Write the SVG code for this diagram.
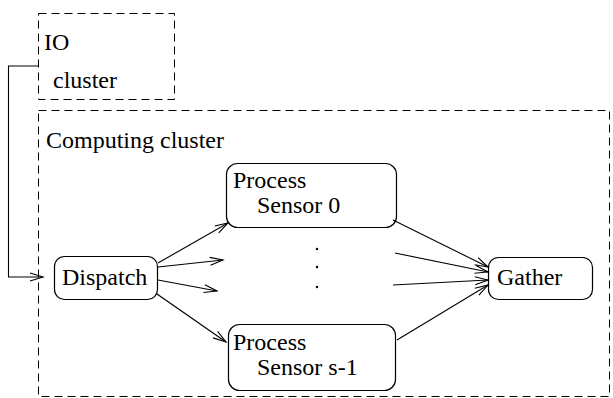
<svg xmlns="http://www.w3.org/2000/svg" width="613" height="398" viewBox="0 0 613 398">
<defs>
<style>
.cl{fill:none;stroke:#000;stroke-width:1;stroke-dasharray:8,5}
.nd{fill:#fff;stroke:#000;stroke-width:1.2}
text{font-family:'Liberation Serif','DejaVu Serif',serif;font-size:24px;fill:#000}
.e{fill:none;stroke:#000;stroke-width:1.1}
</style>
<marker id="ah" markerUnits="userSpaceOnUse" markerWidth="16" markerHeight="12" refX="14" refY="6" orient="auto" viewBox="0 0 16 12">
<path d="M1,2 L14,6 L1,10" fill="none" stroke="#000" stroke-width="1.1"/>
</marker>
</defs>
<g id="io-cluster">
<rect class="cl" x="38.5" y="13.5" width="136" height="86"/>
<text x="44" y="50">IO</text>
<text x="53" y="88">cluster</text>
</g>
<g id="computing-cluster">
<rect class="cl" x="38.5" y="110.5" width="571" height="286"/>
<text x="46" y="148">Computing cluster</text>
</g>
<g id="dispatch">
<rect class="nd" x="54.5" y="256.5" width="103" height="43" rx="10"/>
<text x="62" y="285">Dispatch</text>
</g>
<g id="process0">
<rect class="nd" x="226.5" y="163.5" width="170" height="64" rx="11"/>
<text x="233" y="188">Process</text>
<text x="257" y="213">Sensor 0</text>
</g>
<g id="process-s1">
<rect class="nd" x="228.5" y="324.5" width="167" height="66" rx="11"/>
<text x="233" y="350">Process</text>
<text x="257" y="375">Sensor s-1</text>
</g>
<g id="gather">
<rect class="nd" x="488.5" y="257.5" width="104" height="42" rx="10"/>
<text x="497" y="285">Gather</text>
</g>
<g id="dots">
<circle cx="317" cy="249" r="1.2"/>
<circle cx="317" cy="267" r="1.2"/>
<circle cx="317" cy="287" r="1.2"/>
</g>
<g id="connectors">
<path class="e" d="M38,66 H8.5 V277 H43" marker-end="url(#ah)"/>
<path class="e" d="M158,263 L228,223" marker-end="url(#ah)"/>
<path class="e" d="M158,267 L223,260" marker-end="url(#ah)"/>
<path class="e" d="M158,280 L217,291" marker-end="url(#ah)"/>
<path class="e" d="M157,294 L226,342" marker-end="url(#ah)"/>
<path class="e" d="M393,220 L488,267" marker-end="url(#ah)"/>
<path class="e" d="M395,253 L488,272" marker-end="url(#ah)"/>
<path class="e" d="M393,285 L488,280" marker-end="url(#ah)"/>
<path class="e" d="M397,340 L488,285" marker-end="url(#ah)"/>
</g>
</svg>
